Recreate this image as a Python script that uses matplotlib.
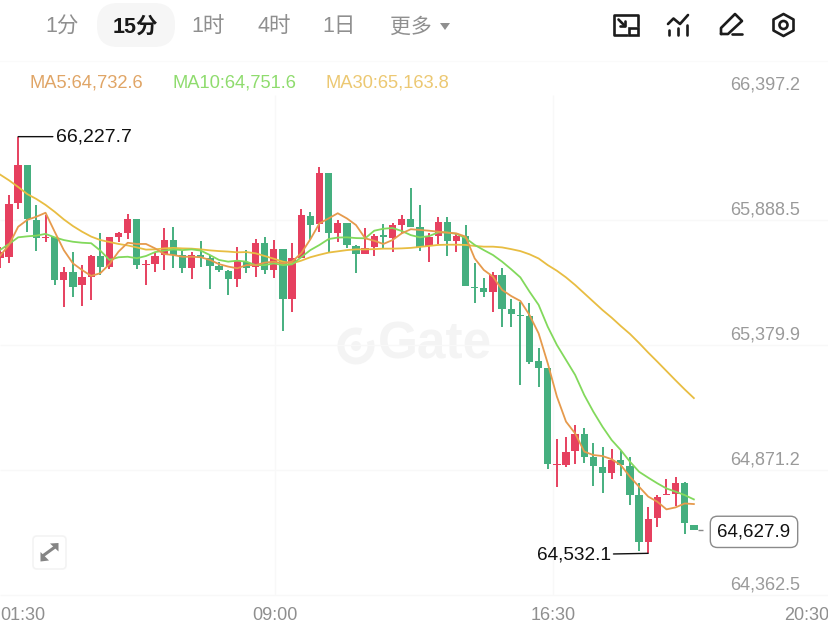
import matplotlib
matplotlib.use("Agg")
import matplotlib.pyplot as plt
from matplotlib.patches import Arc, Circle, FancyBboxPatch, Polygon, Rectangle

plt.rcParams['font.family'] = ['Liberation Sans', 'Noto Sans CJK SC']

# 15 minute candles, left to right
opens = [65733, 65737, 65956, 66112, 65889, 65814, 65818, 65644, 65678, 65625,
         65658, 65742, 65696, 65818, 65834, 65891, 65705, 65708, 65746, 65807,
         65746, 65692, 65746, 65733, 65701, 65682, 65647, 65719, 65696, 65796,
         65685, 65771, 65566, 65733, 65905, 65872, 66078, 65837, 65875, 65784,
         65749, 65777, 65828, 65817, 65868, 65893, 65859, 65783, 65825, 65882,
         65805, 65825, 65617, 65612, 65594, 65665, 65525, 65503, 65499, 65313,
         65286, 64892, 64892, 64950, 65018, 64923, 64885, 64860, 64912, 64887,
         64768, 64580, 64675, 64768, 64773, 64820, 64646]
highs = [65780, 65990, 66227.7, 66112, 65950, 65909, 65818, 65699, 65757, 65705,
         65746, 65834, 65821, 65841, 65913, 65891, 65726, 65757, 65855, 65859,
         65764, 65760, 65805, 65746, 65719, 65685, 65780, 65766, 65810, 65821,
         65807, 65771, 65794, 65932, 65920, 66103, 66081, 65889, 65875, 65787,
         65855, 65832, 65872, 65878, 65909, 66020, 65950, 65834, 65899, 65902,
         65837, 65870, 65712, 65651, 65678, 65692, 65567, 65556, 65549, 65366,
         65288, 64996, 65007, 65054, 65041, 64980, 64966, 64955, 64950, 64923,
         64817, 64722, 64769, 64833, 64844, 64824, 64646]
lows = [65692, 65715, 65932, 65841, 65764, 65800, 65624, 65533, 65577, 65540,
        65563, 65665, 65688, 65800, 65811, 65689, 65623, 65678, 65685, 65692,
        65672, 65647, 65696, 65606, 65678, 65583, 65617, 65674, 65658, 65669,
        65654, 65437, 65513, 65733, 65807, 65841, 65756, 65800, 65776, 65674,
        65749, 65742, 65773, 65760, 65834, 65861, 65762, 65716, 65790, 65743,
        65760, 65621, 65552, 65574, 65513, 65454, 65454, 65216, 65303, 65210,
        64875, 64803, 64885, 64896, 64901, 64807, 64776, 64833, 64847, 64729,
        64543, 64532.1, 64638, 64768, 64725, 64609, 64627.9]
closes = [65760, 65954, 66112, 65891, 65814, 65818, 65644, 65678, 65617, 65655,
          65742, 65699, 65818, 65834, 65891, 65705, 65708, 65742, 65807, 65746,
          65692, 65746, 65737, 65703, 65685, 65647, 65723, 65692, 65796, 65685,
          65771, 65566, 65733, 65909, 65868, 66078, 65837, 65875, 65787, 65749,
          65773, 65823, 65818, 65868, 65893, 65861, 65780, 65821, 65882, 65805,
          65825, 65621, 65613, 65594, 65665, 65526, 65505, 65499, 65309, 65288,
          64894, 64896, 64946, 65018, 64925, 64887, 64860, 64912, 64892, 64769,
          64580, 64672, 64763, 64773, 64820, 64657, 64627.9]

ma5 = [65742, 65787, 65861, 65889, 65902, 65918, 65841, 65766, 65712, 65685,
       65661, 65672, 65709, 65760, 65796, 65791, 65791, 65773, 65750, 65746,
       65739, 65739, 65737, 65726, 65709, 65699, 65692, 65705, 65705, 65715,
       65719, 65712, 65719, 65753, 65810, 65875, 65895, 65916, 65895, 65868,
       65814, 65804, 65791, 65807, 65834, 65851, 65848, 65845, 65841, 65837,
       65834, 65821, 65732, 65685, 65658, 65604, 65579, 65559, 65502, 65427,
       65305, 65170, 65068, 65020, 64946, 64932, 64928, 64915, 64891, 64844,
       64803, 64763, 64742, 64711, 64719, 64735, 64732.6]
ma10 = [65766, 65791, 65818, 65822, 65825, 65832, 65818, 65807, 65800, 65796,
        65794, 65764, 65726, 65737, 65739, 65733, 65742, 65758, 65764, 65769,
        65766, 65769, 65764, 65746, 65726, 65719, 65723, 65719, 65705, 65705,
        65712, 65705, 65708, 65737, 65766, 65787, 65811, 65817, 65818, 65815,
        65814, 65845, 65853, 65856, 65844, 65827, 65818, 65823, 65838, 65838,
        65832, 65815, 65787, 65766, 65746, 65719, 65688, 65655, 65597, 65543,
        65454, 65380, 65319, 65258, 65176, 65108, 65047, 64993, 64952, 64905,
        64864, 64840, 64817, 64796, 64783, 64769, 64751.6]
ma30 = [66074, 66050, 66023, 65994, 65974, 65950, 65922, 65891, 65864, 65841,
        65821, 65807, 65799, 65791, 65785, 65777, 65768, 65769, 65773, 65775,
        65773, 65772, 65769, 65765, 65762, 65760, 65757, 65758, 65753, 65742,
        65731, 65719, 65712, 65723, 65737, 65747, 65756, 65761, 65766, 65769,
        65769, 65770, 65772, 65772, 65773, 65775, 65779, 65783, 65787, 65788,
        65788, 65787, 65783, 65780, 65780, 65777, 65770, 65762, 65749, 65732,
        65705, 65682, 65655, 65624, 65590, 65556, 65522, 65491, 65457, 65425,
        65388, 65349, 65312, 65274, 65236, 65199, 65163.8]

price_ticks = [66397.2, 65888.5, 65379.9, 64871.2, 64362.5]
time_ticks = [0, 30.13, 60.58, 90.8]
time_labels = ['01:30', '09:00', '16:30', '20:30']
periods = ['1分', '15分', '1时', '4时', '1日', '更多']
ma_labels = ['MA5:64,732.6', 'MA10:64,751.6', 'MA30:65,163.8']

RED = '#e6405f'
GREEN = '#45af7f'
MA5_C, MA10_C, MA30_C = '#e69a4c', '#82d95c', '#e8bd42'
GREY = '#8f8f8f'
GRID = '#f8f8f8'

fig = plt.figure(figsize=(8.29, 6.31), dpi=100, facecolor='white')

# pixel axes under the chart, for the app chrome
bg = fig.add_axes([0, 0, 1, 1], zorder=1)
bg.set_xlim(0, 829)
bg.set_ylim(631, 0)
bg.axis('off')

bg.add_patch(FancyBboxPatch((97, 3), 78, 44, boxstyle='round,pad=0,rounding_size=21',
                            fc='#f6f6f6', ec='none'))
period_x = [62, 135, 208, 274, 339, 411]
for x, lab in zip(period_x, periods):
    active = lab == '15分'
    bg.text(x, 27, lab, ha='center', va='center', fontsize=15.5 if lab != '更多' else 15,
            color='#1a1a1a' if active else GREY, fontweight='bold' if active else 'normal')
bg.add_patch(Polygon([(440, 23), (450, 23), (445, 30)], fc=GREY, ec='none'))
bg.plot([0, 829], [61, 61], color='#fafafa', lw=1)

for x, lab, col in zip([30, 173, 326], ma_labels, ['#e0a566', '#8fdc6e', '#ecc872']):
    bg.text(x, 83, lab, ha='left', va='center', fontsize=13.2, color=col)

# toolbar icons
ink = dict(color='#1c1c1c', lw=1.9, solid_capstyle='round', solid_joinstyle='round')
bg.plot([627, 614, 614, 638, 638], [35, 35, 14.5, 14.5, 26], **ink)
bg.add_patch(Rectangle((629, 28), 9, 7, fc='white', ec='#1c1c1c', lw=1.9))
bg.plot([618.5, 625], [19.5, 26], **ink)
bg.plot([620, 625, 625], [26, 26, 21], **ink)
bg.plot([668, 673.5, 680, 688], [24, 18.5, 24, 15], **ink)
for x, top in zip([669, 678, 687], [30, 27.5, 25]):
    bg.plot([x, x], [top, 34.5], **ink)
bg.plot([721, 721, 735, 742, 728, 721], [34, 28, 14, 21, 34, 34], **ink)
bg.plot([732, 742], [34, 34], **ink)
bg.add_patch(Polygon([(783.5, 14), (793.5, 19.5), (793.5, 30.5), (783.5, 36), (773.5, 30.5), (773.5, 19.5)],
                     fc='none', ec='#1c1c1c', lw=1.9, joinstyle='round'))
bg.add_patch(Circle((783.5, 25), 4, fc='none', ec='#1c1c1c', lw=1.9))

# watermark
bg.add_patch(Arc((356, 346), 30, 30, theta1=-20, theta2=290, ec='#f4f4f4', lw=5))
bg.add_patch(Circle((356, 346), 5, fc='#f4f4f4', ec='none'))
bg.text(435, 345, 'Gate', ha='center', va='center', fontsize=37, fontweight='bold', color='#f4f4f4')

# expand button
bg.add_patch(FancyBboxPatch((33, 536), 33, 33, boxstyle='round,pad=0,rounding_size=4',
                            fc='white', ec='#f3f3f3', lw=1.2))
bg.plot([44, 55], [555, 547], color='#858585', lw=2.2)
bg.add_patch(Polygon([(40.5, 552), (40.5, 561.5), (49, 560.5)], fc='#858585', ec='none'))
bg.add_patch(Polygon([(58.5, 543), (58.5, 551.5), (50, 543.5)], fc='#858585', ec='none'))

# chart itself, one candle every 9.13 px
ax = fig.add_axes([0, 0, 1, 1], zorder=2)
ax.patch.set_alpha(0)
ax.set_xlim(0.014, 90.8)
ax.set_ylim(64216, 66783.8)
ax.axis('off')
ax.hlines(price_ticks[1:], 0.014, 90.8, color=GRID, lw=1, zorder=1)
ax.vlines(time_ticks[1:3], 64362.5, 66397.2, color=GRID, lw=1, zorder=1)

idx = list(range(len(closes)))
colors = [RED if c >= o else GREEN for o, c in zip(opens, closes)]
ax.vlines(idx, lows, highs, colors=colors, lw=1.4, zorder=3)
ax.bar(idx, [abs(c - o) for o, c in zip(opens, closes)], bottom=[min(o, c) for o, c in zip(opens, closes)],
       width=0.8, color=colors, linewidth=0, zorder=3)
ax.plot(idx, ma30, color=MA30_C, lw=1.3, zorder=4)
ax.plot(idx, ma10, color=MA10_C, lw=1.3, zorder=4)
ax.plot(idx, ma5, color=MA5_C, lw=1.3, zorder=4)

for p in price_ticks:
    ax.annotate(f'{p:,.1f}', xy=(800 / 829, p), xycoords=ax.get_yaxis_transform(), xytext=(0, 7.5),
                textcoords='offset points', ha='right', va='center', fontsize=13, color='#9a9a9a')

aligns = ['left', 'center', 'center', 'right']
for x, lab, ha in zip(time_ticks, time_labels, aligns):
    ax.annotate(lab, xy=(x, 64216), xytext=(0, 11), textcoords='offset points',
                ha=ha, va='center', fontsize=13, color=GREY)

# highest and lowest markers
hi = highs.index(max(highs))
lo = lows.index(min(lows))
ax.annotate(f'{max(highs):,.1f}', xy=(hi, max(highs)), xytext=(27, 0), textcoords='offset points',
            ha='left', va='center', fontsize=14, color='#111111',
            arrowprops=dict(arrowstyle='-', color='#111111', lw=1, shrinkA=0, shrinkB=0))
ax.annotate(f'{min(lows):,.1f}', xy=(lo, min(lows)), xytext=(-27, -1), textcoords='offset points',
            ha='right', va='center', fontsize=13.7, color='#111111',
            arrowprops=dict(arrowstyle='-', color='#111111', lw=1, shrinkA=0, shrinkB=0))

# last price tag
ax.hlines(closes[-1], idx[-1] + 0.45, idx[-1] + 1.0, color='#888888', lw=1)
ax.annotate(f'{closes[-1]:,.1f}', xy=(754 / 829, closes[-1]), xycoords=ax.get_yaxis_transform(),
            xytext=(0, -1.5), textcoords='offset points', ha='center', va='center', fontsize=13.5,
            color='#111111', bbox=dict(boxstyle='round,pad=0.38', fc='white', ec='#8a8a8a', lw=1))

fig.savefig('out.png', dpi=100)
